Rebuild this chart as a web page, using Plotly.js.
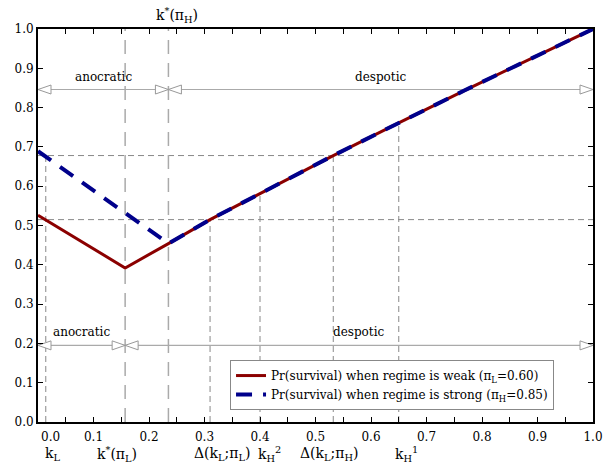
<!DOCTYPE html>
<html>
<head>
<meta charset="utf-8">
<script src="https://cdn.plot.ly/plotly-3.0.1.min.js"></script>
<style>html,body{margin:0;padding:0;background:#fff;}#chart{width:605px;height:464px;}</style>
</head>
<body>
<div id="chart"></div>
<script>
// ---- data ----
const weakX   = [0, 0.157, 0.235, 0.310, 0.400, 0.532, 0.650, 0.769, 1.0];
const weakY   = [0.526, 0.392, 0.454, 0.515, 0.581, 0.678, 0.761, 0.844, 1.0];
const strongX = [0, 0.235, 0.310, 0.400, 0.532, 0.650, 0.769, 1.0];
const strongY = [0.689, 0.454, 0.515, 0.581, 0.678, 0.761, 0.844, 1.0];
const weakName   = 'Pr(survival) when regime is weak (π<sub>L</sub>=0.60)';
const strongName = 'Pr(survival) when regime is strong (π<sub>H</sub>=0.85)';

// thresholds
const kL = 0.014, kStarL = 0.157, kStarH = 0.235;
const deltaL = 0.310, deltaH = 0.532, kH2 = 0.400, kH1 = 0.650;
const levelWeak = 0.515, levelStrong = 0.678;
// reference verticals: [x, top]
const refVerticals = [[kL, levelStrong], [deltaL, levelWeak], [kH2, 0.581], [deltaH, levelStrong], [kH1, 0.761]];
const refHorizontals = [levelWeak, levelStrong];
const regimeLines = [kStarL, kStarH];
// regime arrows: [y, boundary]
const arrowTop = [0.846, kStarH];
const arrowBottom = [0.195, kStarL];
const labelOffset = 0.033;

// axis ticks
const xTickVals = [0,0.05,0.1,0.15,0.2,0.25,0.3,0.35,0.4,0.45,0.5,0.55,0.6,0.65,0.7,0.75,0.8,0.85,0.9,0.95,1.0];
const xTickText = ['','','0.1','','0.2','','0.3','','0.4','','0.5','','0.6','','0.7','','0.8','','0.9','','1.0'];
// second-row labels: [x, text, xshift]
const bottomLabels = [
  [kL, 'k<sub>L</sub>', 7],
  [kStarL, 'k<sup>*</sup>(π<sub>L</sub>)', -8],
  [deltaL, 'Δ(k<sub>L</sub>;π<sub>L</sub>)', 12],
  [kH2, 'k<sub>H</sub><sup>2</sup>', 9],
  [deltaH, 'Δ(k<sub>L</sub>;π<sub>H</sub>)', -4],
  [kH1, 'k<sub>H</sub><sup>1</sup>', 8]
];

const FONT = 'DejaVu Serif';

const traces = [
  {x: weakX, y: weakY, mode: 'lines', name: weakName,
   line: {color: '#8B0000', width: 3}},
  {x: strongX, y: strongY, mode: 'lines', name: strongName,
   line: {color: '#00008B', width: 4, dash: '16px,11px'}}
];

const shapes = [];
refHorizontals.forEach(h => shapes.push({type:'line', xref:'x', yref:'y', x0:0, x1:1, y0:h, y1:h,
  layer:'below', line:{color:'#888', width:1, dash:'6px,4px'}}));
refVerticals.forEach(v => shapes.push({type:'line', xref:'x', yref:'y', x0:v[0], x1:v[0], y0:0, y1:v[1],
  layer:'below', line:{color:'#888', width:1, dash:'6px,4px'}}));
regimeLines.forEach(k => shapes.push({type:'line', xref:'x', yref:'y', x0:k, x1:k, y0:0, y1:1,
  layer:'below', line:{color:'#aaa', width:1.5, dash:'14px,9px'}}));

function addArrow(y, a, b) {
  shapes.push({type:'line', xref:'x', yref:'y', x0:a, x1:b, y0:y, y1:y, layer:'below',
    line:{color:'#aaa', width:1.2}});
  const head = (x, dir) => ({type:'path', xref:'x', yref:'y', xsizemode:'pixel', ysizemode:'pixel',
    xanchor:x, yanchor:y, layer:'below',
    path: dir < 0 ? 'M0,0L13,4.5L13,-4.5Z' : 'M0,0L-13,4.5L-13,-4.5Z',
    fillcolor:'#fff', line:{color:'#999', width:1}});
  shapes.push(head(a, -1));
  shapes.push(head(b, 1));
}
addArrow(arrowTop[0], 0, arrowTop[1]);
addArrow(arrowTop[0], arrowTop[1], 1);
addArrow(arrowBottom[0], 0, arrowBottom[1]);
addArrow(arrowBottom[0], arrowBottom[1], 1);

const annotations = [];
function regimeLabel(text, a, b, y) {
  annotations.push({x:(a+b)/2, y:y+labelOffset, xref:'x', yref:'y', text:text, showarrow:false,
    font:{family:FONT, size:12, color:'#000'}});
}
regimeLabel('anocratic', 0, arrowTop[1], arrowTop[0]);
regimeLabel('despotic', arrowTop[1], 1, arrowTop[0]);
regimeLabel('anocratic', 0, arrowBottom[1], arrowBottom[0]);
regimeLabel('despotic', arrowBottom[1], 1, arrowBottom[0]);

annotations.push({x:0, y:0, xref:'x', yref:'paper', text:'0.0', showarrow:false,
  xshift:12, yshift:-15, yanchor:'middle', font:{family:FONT, size:12, color:'#000'}});
bottomLabels.forEach(l => annotations.push({x:l[0], y:0, xref:'x', yref:'paper', text:l[1], showarrow:false,
  xshift:l[2], yshift:-32, yanchor:'middle', font:{family:FONT, size:14, color:'#000'}}));
annotations.push({x:kStarH, y:1, xref:'x', yref:'paper', text:'k<sup>*</sup>(π<sub>H</sub>)', showarrow:false,
  xshift:9, yshift:14, yanchor:'middle', font:{family:FONT, size:14, color:'#000'}});

const layout = {
  width:605, height:464,
  margin:{l:38, r:12, t:29, b:42, pad:0},
  paper_bgcolor:'#fff', plot_bgcolor:'#fff',
  font:{family:FONT, size:12, color:'#000'},
  showlegend:true,
  legend:{x:0.346, y:0.094, xanchor:'left', yanchor:'middle', bgcolor:'#fff',
    bordercolor:'#888', borderwidth:1, font:{family:FONT, size:12, color:'#000'},
    tracegroupgap:0, itemwidth:30},
  xaxis:{range:[0,1], showgrid:false, zeroline:false, showline:true, linecolor:'#000', linewidth:2,
    mirror:'ticks', ticks:'inside', ticklen:5, tickwidth:1, tickcolor:'#000',
    tickmode:'array', tickvals:xTickVals, ticktext:xTickText, ticklabelstandoff:3,
    tickfont:{family:FONT, size:12, color:'#000'}},
  yaxis:{range:[0,1], showgrid:false, zeroline:false, showline:true, linecolor:'#000', linewidth:2,
    mirror:'ticks', ticks:'inside', ticklen:5, tickwidth:1, tickcolor:'#000',
    dtick:0.1, tick0:0, tickformat:'.1f', tickfont:{family:FONT, size:12, color:'#000'}},
  shapes:shapes,
  annotations:annotations
};

Plotly.newPlot('chart', traces, layout, {displayModeBar:false, staticPlot:true});
</script>
</body>
</html>
